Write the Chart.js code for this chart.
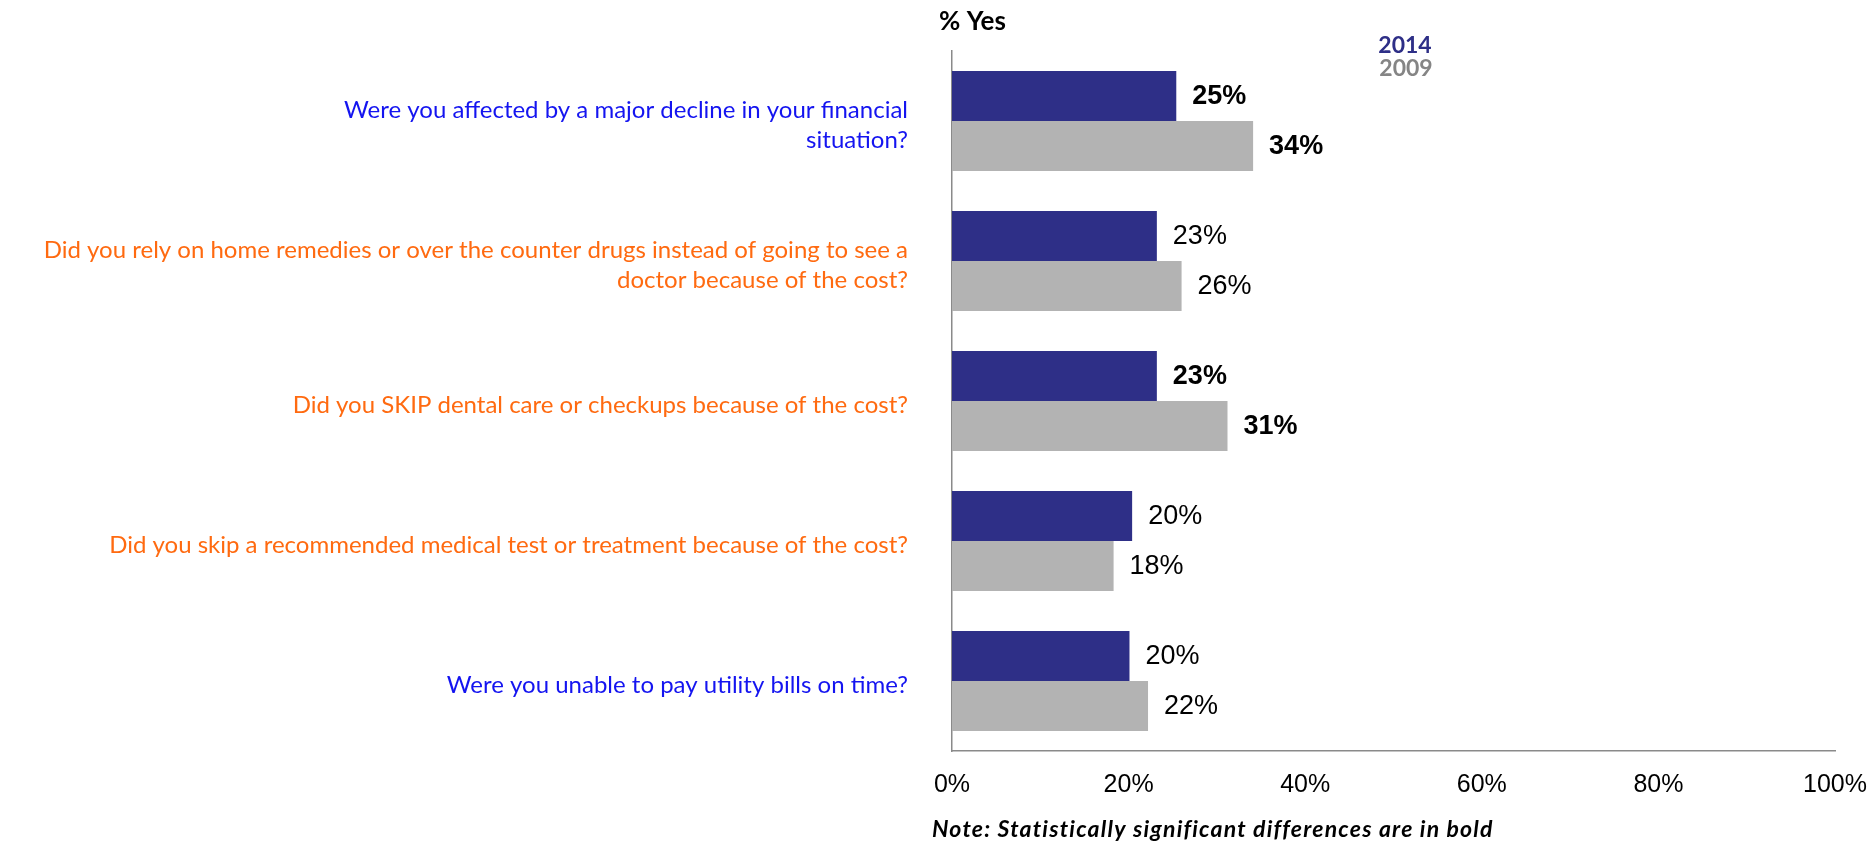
<!DOCTYPE html>
<html>
<head>
<meta charset="utf-8">
<script src="https://cdn.jsdelivr.net/npm/chart.js@4.4.1/dist/chart.umd.min.js"></script>
<style>
  html, body { margin: 0; padding: 0; background: #ffffff; overflow: hidden; }
  #wrap { width: 1874px; height: 843px; position: relative; }
</style>
</head>
<body>
<div id="wrap"><canvas id="c"></canvas></div>
<script>
// ---- data ----
const questions = [
  ["Were you affected by a major decline in your financial", "situation?"],
  ["Did you rely on home remedies or over the counter drugs instead of going to see a", "doctor because of the cost?"],
  ["Did you SKIP dental care or checkups because of the cost?"],
  ["Did you skip a recommended medical test or treatment because of the cost?"],
  ["Were you unable to pay utility bills on time?"]
];
const seriesNames = ["2014", "2009"];
const values2014 = [25.4, 23.2, 23.2, 20.4, 20.1];
const values2009 = [34.1, 26.0, 31.2, 18.3, 22.2];
const significant = [true, false, true, false, false];
const xTicks = [0, 20, 40, 60, 80, 100];
const axisTitle = "% Yes";
const noteText = "Note: Statistically significant differences are in bold";

// ---- styles ----
const questionColors = ["#1414f0", "#ff6a10", "#ff6a10", "#ff6a10", "#1414f0"];
const seriesColors = ["#2e2f87", "#b3b3b3"];
const legendColors = ["#2e2f87", "#858585"];

const overlay = {
  id: 'overlay',
  afterDatasetsDraw(chart) {
    const ctx = chart.ctx;
    ctx.save();
    ctx.fillStyle = '#000';
    ctx.textAlign = 'left';
    ctx.textBaseline = 'middle';
    chart.data.datasets.forEach((ds, di) => {
      const meta = chart.getDatasetMeta(di);
      meta.data.forEach((bar, i) => {
        ctx.font = (significant[i] ? 'bold ' : '') + '27px "Liberation Sans", Arial, sans-serif';
        ctx.fillText(Math.round(ds.data[i]) + '%', bar.x + 16, bar.y + 1);
      });
    });
    ctx.restore();
  },
  afterDraw(chart) {
    const ctx = chart.ctx;
    const area = chart.chartArea;
    ctx.save();
    // axis title
    ctx.fillStyle = '#000';
    ctx.font = 'bold 26px Lato, sans-serif';
    ctx.textAlign = 'left';
    ctx.textBaseline = 'alphabetic';
    ctx.fillText(axisTitle, area.left - 13, 30);
    // legend text
    ctx.font = 'bold 23px Lato, sans-serif';
    ctx.textAlign = 'center';
    ctx.textBaseline = 'middle';
    ctx.fillStyle = legendColors[0];
    ctx.fillText(seriesNames[0], 1405, 46);
    ctx.fillStyle = legendColors[1];
    ctx.fillText(seriesNames[1], 1406, 69);
    // note
    ctx.fillStyle = '#000';
    ctx.font = 'italic bold 23px Lato, sans-serif';
    if ('letterSpacing' in ctx) ctx.letterSpacing = '1.2px';
    ctx.textAlign = 'left';
    ctx.textBaseline = 'alphabetic';
    ctx.fillText(noteText, 932, 837);
    ctx.restore();
  }
};

new Chart(document.getElementById('c'), {
  type: 'bar',
  data: {
    labels: questions,
    datasets: [
      { label: seriesNames[0], data: values2014, backgroundColor: seriesColors[0], borderWidth: 0 },
      { label: seriesNames[1], data: values2009, backgroundColor: seriesColors[1], borderWidth: 0 }
    ]
  },
  options: {
    indexAxis: 'y',
    responsive: true,
    maintainAspectRatio: false,
    animation: false,
    layout: { padding: { top: 51, right: 39, bottom: 0, left: 0 } },
    datasets: { bar: { barPercentage: 1.0, categoryPercentage: 100 / 140 } },
    plugins: { legend: { display: false }, tooltip: { enabled: false } },
    scales: {
      x: {
        min: 0, max: 100,
        afterBuildTicks(scale) { scale.ticks = xTicks.map(v => ({ value: v })); },
        afterFit(scale) {
          scale.height = 92;
          scale.paddingLeft = 0; scale.paddingRight = 0;
        },
        grid: { display: false, drawTicks: false },
        border: { display: true, color: '#8a8a8a', width: 1.5 },
        ticks: {
          padding: 19,
          color: '#000',
          font: { family: '"Liberation Sans", Arial, sans-serif', size: 25 },
          callback: v => v + '%',
          maxRotation: 0
        }
      },
      y: {
        afterFit(scale) {
          scale.width = 952;
          scale.paddingTop = 0; scale.paddingBottom = 0;
        },
        grid: { display: false, drawTicks: false },
        border: { display: true, color: '#8a8a8a', width: 1.5 },
        ticks: {
          padding: 44,
          labelOffset: 4,
          color: ctx => questionColors[ctx.index],
          font: { family: 'Lato, sans-serif', size: 24, lineHeight: 1.25 }
        }
      }
    }
  },
  plugins: [overlay]
});
</script>
</body>
</html>
